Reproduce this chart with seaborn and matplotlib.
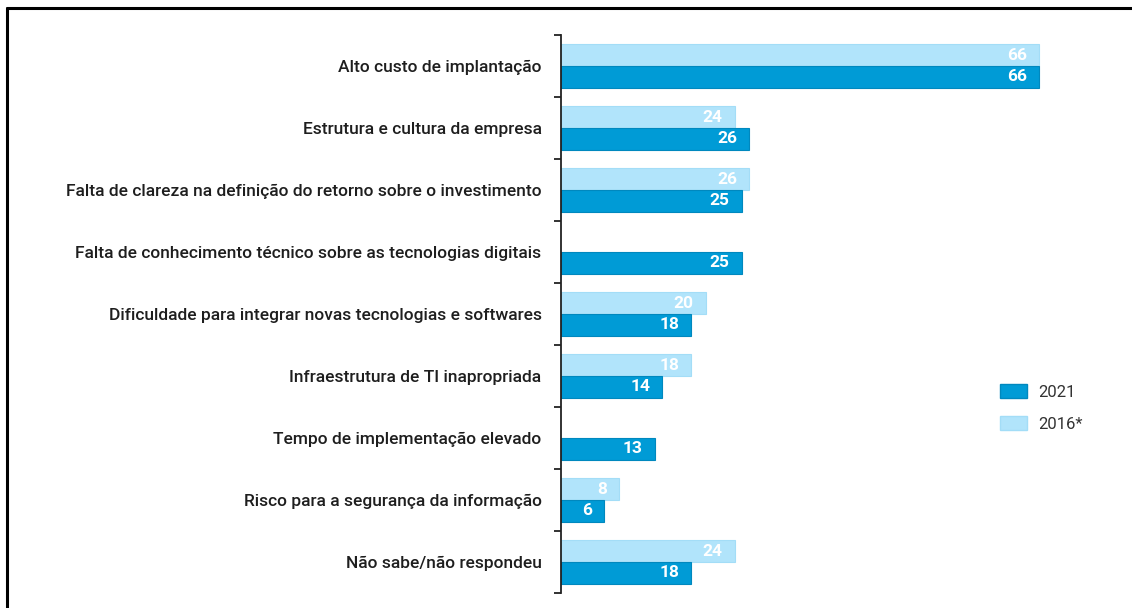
import numpy as np
import pandas as pd
import seaborn as sns
import matplotlib.pyplot as plt
from matplotlib.lines import Line2D
from matplotlib.patches import Patch

categorias = [
    'Alto custo de implantação',
    'Estrutura e cultura da empresa',
    'Falta de clareza na definição do retorno sobre o investimento',
    'Falta de conhecimento técnico sobre as tecnologias digitais',
    'Dificuldade para integrar novas tecnologias e softwares',
    'Infraestrutura de TI inapropriada',
    'Tempo de implementação elevado',
    'Risco para a segurança da informação',
    'Não sabe/não respondeu',
]
valores_2021 = [66, 26, 25, 25, 18, 14, 13, 6, 18]
valores_2016 = [66, 24, 26, np.nan, 20, 18, np.nan, 8, 24]

cor_2021 = '#009BD6'
cor_2016 = '#B1E4FB'

df = pd.DataFrame({
    'Motivo': categorias * 2,
    'Ano': ['2016*'] * len(categorias) + ['2021'] * len(categorias),
    'Percentual': valores_2016 + valores_2021,
}).dropna()

sns.set_style('white')
plt.rcParams['font.family'] = ['Roboto', 'DejaVu Sans']

fig = plt.figure(figsize=(11.32, 6.08), dpi=100)
ax = fig.add_axes([561 / 1132, 1 - 593 / 608, 539 / 1132, 558 / 608])

sns.barplot(
    data=df,
    y='Motivo',
    x='Percentual',
    hue='Ano',
    order=categorias,
    hue_order=['2016*', '2021'],
    palette={'2016*': cor_2016, '2021': cor_2021},
    saturation=1,
    width=0.7,
    orient='h',
    ax=ax,
    legend=False,
)

rgb_2021 = tuple(int(cor_2021[i:i + 2], 16) / 255 for i in (1, 3, 5))
for p in ax.patches:
    w = p.get_width()
    if np.isnan(w) or w == 0:
        continue
    escuro = np.allclose(p.get_facecolor()[:3], rgb_2021, atol=0.01)
    p.set_edgecolor('#0088BE' if escuro else '#A3DDF7')
    p.set_linewidth(0.8)
    ax.text(w - 1.7, p.get_y() + p.get_height() / 2, f'{int(w)}',
            ha='right', va='center', color='white', fontsize=12.5,
            fontweight='bold')

ax.set_xlim(0, 539 / (478 / 66))
ax.set_ylim(len(categorias) - 0.5, -0.5)
ax.set_xlabel('')
ax.set_ylabel('')
ax.set_xticks([])

for lado in ['top', 'right', 'bottom']:
    ax.spines[lado].set_visible(False)
ax.spines['left'].set_color('#222222')
ax.spines['left'].set_linewidth(1.3)

ax.set_yticks(np.arange(len(categorias) + 1) - 0.5, minor=True)
ax.tick_params(axis='y', which='minor', length=5, width=1.3, color='#222222', left=True)
ax.tick_params(axis='y', which='major', length=0, pad=14, labelsize=12.5, labelcolor='#1e1e1e')
for rotulo in ax.get_yticklabels():
    rotulo.set_fontweight('medium')

handles = [Patch(facecolor=cor_2021, edgecolor='#0088BE', label='2021'),
           Patch(facecolor=cor_2016, edgecolor='#A3DDF7', label='2016*')]
fig.legend(handles=handles, loc='center left', bbox_to_anchor=(985 / 1132, 1 - 408 / 608),
           frameon=False, fontsize=12, handlelength=1.6, handleheight=0.9,
           labelspacing=1.0, handletextpad=0.7, labelcolor='#333333')

# moldura do recorte original (topo e esquerda)
fig.add_artist(Line2D([7 / 1132, 1.0], [1 - 8 / 608, 1 - 8 / 608], color='black', lw=2.2))
fig.add_artist(Line2D([7 / 1132, 7 / 1132], [0, 1 - 8 / 608], color='black', lw=2.2))

fig.savefig('out.png', dpi=100, facecolor='white')
